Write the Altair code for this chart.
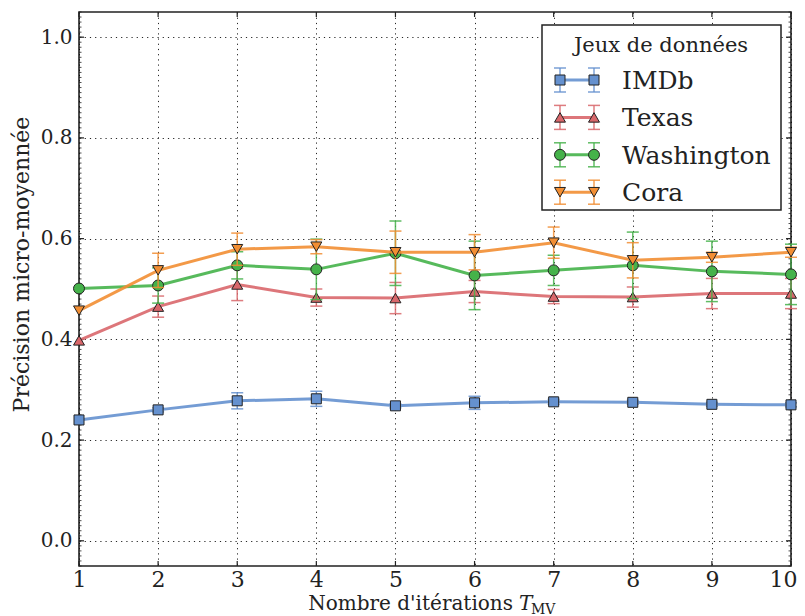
import altair as alt
import pandas as pd
import numpy as np

# ---------------- data ----------------
iterations = [1, 2, 3, 4, 5, 6, 7, 8, 9, 10]
series_names = ["IMDb", "Texas", "Washington", "Cora"]

imdb = [0.240, 0.260, 0.278, 0.282, 0.268, 0.274, 0.276, 0.275, 0.271, 0.270]
imdb_err = [0.000, 0.004, 0.016, 0.015, 0.004, 0.013, 0.005, 0.004, 0.004, 0.004]
texas = [0.398, 0.465, 0.509, 0.483, 0.482, 0.495, 0.485, 0.484, 0.491, 0.491]
texas_err = [0.000, 0.021, 0.032, 0.017, 0.031, 0.022, 0.014, 0.020, 0.030, 0.030]
washington = [0.501, 0.507, 0.547, 0.539, 0.571, 0.527, 0.537, 0.547, 0.535, 0.529]
washington_err = [0.000, 0.035, 0.027, 0.060, 0.064, 0.068, 0.030, 0.066, 0.060, 0.060]
cora = [0.457, 0.537, 0.579, 0.584, 0.573, 0.573, 0.592, 0.557, 0.563, 0.573]
cora_err = [0.000, 0.034, 0.032, 0.014, 0.042, 0.035, 0.031, 0.035, 0.010, 0.010]

y_major_ticks = [0.0, 0.2, 0.4, 0.6, 0.8, 1.0]
x_ticks = iterations

values = {"IMDb": (imdb, imdb_err), "Texas": (texas, texas_err),
          "Washington": (washington, washington_err), "Cora": (cora, cora_err)}

colors = {"IMDb": "#6591cf", "Texas": "#d9676b", "Washington": "#45b24a", "Cora": "#f28e33"}
shapes = {"IMDb": "square", "Texas": "triangle-up", "Washington": "circle", "Cora": "triangle-down"}
msize = {"IMDb": 100, "Texas": 120, "Washington": 120, "Cora": 120}

FONT = "DejaVu Serif"
W, H = 712, 554
CAP = "M-1,0L1,0"

x_scale = alt.Scale(domain=[1, 10], nice=False, zero=False)
y_scale = alt.Scale(domain=[-0.05, 1.05], nice=False, zero=False)
x_axis = alt.Axis(values=x_ticks, format="d", title=None, ticks=False, domain=False,
                  grid=True, gridDash=[1.2, 4], gridColor="#000", gridOpacity=0.85,
                  labelFont=FONT, labelFontSize=22, labelColor="#222", labelPadding=3,
                  labelFlush=False, labelOverlap=False, labelBound=False,
                  labelAlign={"condition": {"test": "datum.value == 10", "value": "right"},
                              "value": "center"},
                  labelOffset={"condition": {"test": "datum.value == 10", "value": 6},
                               "value": 0})
y_axis = alt.Axis(values=y_major_ticks, format=".1f", title="Précision micro-moyennée",
                  ticks=False, domain=False, grid=True, gridDash=[1.2, 4], gridColor="#000",
                  gridOpacity=0.85, labelFont=FONT, labelFontSize=20, labelColor="#222",
                  labelPadding=7, labelFlush=False, titleFont=FONT, titleFontSize=22,
                  titleFontWeight="normal", titleColor="#222", titleX=-46, titleY=252,
                  titleAngle=270, titleAlign="center", titleBaseline="bottom")


def X(field):
    return alt.X(field, type="quantitative", scale=x_scale, axis=x_axis)


def Y(field):
    return alt.Y(field, type="quantitative", scale=y_scale, axis=y_axis)


layers = []

# tick marks (inward, on all four sides)
xt = pd.DataFrame({"t": x_ticks})
ymaj = pd.DataFrame({"v": y_major_ticks})
ymin = pd.DataFrame({"v": np.round(np.arange(-0.05, 1.0501, 0.01), 3)})
layers.append(alt.Chart(xt).mark_rule(color="#222", strokeWidth=1.2).encode(
    x=X("t"), y=alt.value(H), y2=alt.value(H - 5)))
layers.append(alt.Chart(xt).mark_rule(color="#222", strokeWidth=1.2).encode(
    x=X("t"), y=alt.value(0), y2=alt.value(5)))
layers.append(alt.Chart(ymaj).mark_rule(color="#222", strokeWidth=1.2).encode(
    y=Y("v"), x=alt.value(0), x2=alt.value(5)))
layers.append(alt.Chart(ymaj).mark_rule(color="#222", strokeWidth=1.2).encode(
    y=Y("v"), x=alt.value(W - 5), x2=alt.value(W)))
layers.append(alt.Chart(ymin).mark_rule(color="#222", strokeWidth=0.8).encode(
    y=Y("v"), x=alt.value(0), x2=alt.value(2.5)))
layers.append(alt.Chart(ymin).mark_rule(color="#222", strokeWidth=0.8).encode(
    y=Y("v"), x=alt.value(W - 2.5), x2=alt.value(W)))

# data series
for name in series_names:
    vals, errs = values[name]
    df = pd.DataFrame({"it": iterations, "val": vals, "err": errs})
    df["lo"] = df["val"] - df["err"]
    df["hi"] = df["val"] + df["err"]
    dfe = df[df["err"] > 0]
    c = colors[name]
    base = alt.Chart(df)
    layers.append(base.mark_line(color=c, strokeWidth=3, opacity=0.9).encode(x=X("it"), y=Y("val")))
    eb = alt.Chart(dfe)
    layers.append(eb.mark_rule(color=c, strokeWidth=1.5, opacity=0.85).encode(
        x=X("it"), y=Y("lo"), y2="hi"))
    layers.append(eb.mark_point(shape=CAP, size=144, color=c, strokeWidth=1.5, opacity=0.85,
                                filled=False).encode(x=X("it"), y=Y("lo")))
    layers.append(eb.mark_point(shape=CAP, size=144, color=c, strokeWidth=1.5, opacity=0.85,
                                filled=False).encode(x=X("it"), y=Y("hi")))
    layers.append(base.mark_point(shape=shapes[name], size=msize[name], filled=True, fill=c,
                                  fillOpacity=1, stroke="#222", strokeWidth=1, opacity=1).encode(
        x=X("it"), y=Y("val")))

# legend (drawn by hand to show line + markers + error bars)
one = pd.DataFrame({"k": [0]})
layers.append(alt.Chart(one).mark_rect(fill="white", stroke="#222", strokeWidth=1.5).encode(
    x=alt.value(463), x2=alt.value(702), y=alt.value(13), y2=alt.value(198)))
layers.append(alt.Chart(one).mark_text(font=FONT, fontSize=21, color="#222", align="center",
                                       baseline="middle", text="Jeux de données").encode(
    x=alt.value(582), y=alt.value(34)))
for i, name in enumerate(series_names):
    yc = 68 + i * 37.4
    c = colors[name]
    ch = alt.Chart(one)
    layers.append(ch.mark_rule(color=c, strokeWidth=3, opacity=0.9).encode(
        x=alt.value(481), x2=alt.value(515), y=alt.value(yc)))
    for xx in (481, 515):
        layers.append(ch.mark_rule(color=c, strokeWidth=1.5, opacity=0.85).encode(
            x=alt.value(xx), y=alt.value(yc - 12), y2=alt.value(yc + 12)))
        for dy in (-12, 12):
            layers.append(ch.mark_point(shape=CAP, size=144, color=c, strokeWidth=1.5,
                                        opacity=0.85, filled=False).encode(
                x=alt.value(xx), y=alt.value(yc + dy)))
        layers.append(ch.mark_point(shape=shapes[name], size=msize[name], filled=True, fill=c,
                                    stroke="#222", strokeWidth=1, opacity=1).encode(
            x=alt.value(xx), y=alt.value(yc)))
    layers.append(ch.mark_text(font=FONT, fontSize=25, color="#222", align="left",
                               baseline="middle", text=name).encode(
        x=alt.value(543), y=alt.value(yc + 1)))

# x-axis title with italic T and subscript MV
layers.append(alt.Chart(one).mark_text(font=FONT, fontSize=20, color="#222", align="right",
                                       baseline="alphabetic", text="Nombre d'itérations").encode(
    x=alt.value(434), y=alt.value(598)))
layers.append(alt.Chart(one).mark_text(font=FONT, fontSize=20, fontStyle="italic", color="#222",
                                       align="left", baseline="alphabetic", text="T").encode(
    x=alt.value(440), y=alt.value(598)))
layers.append(alt.Chart(one).mark_text(font=FONT, fontSize=14, color="#222", align="left",
                                       baseline="alphabetic", text="MV").encode(
    x=alt.value(452), y=alt.value(602)))

chart = alt.layer(*layers).properties(
    width=W, height=H,
    autosize=alt.AutoSizeParams(type="none"),
    padding={"left": 71, "top": 4, "right": 6, "bottom": 50},
    background="white",
).configure_view(stroke="#222", strokeWidth=1.6)

chart.save("out.html", embed_options={"renderer": "svg", "actions": False})
